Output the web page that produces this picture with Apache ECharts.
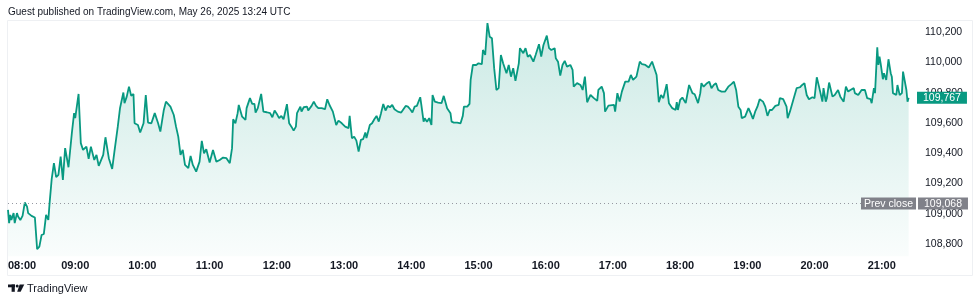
<!DOCTYPE html>
<html><head><meta charset="utf-8">
<script src="https://cdn.jsdelivr.net/npm/echarts@6/dist/echarts.min.js"></script>
<style>html,body{margin:0;padding:0;background:#fff}#c{width:980px;height:303px}</style>
</head><body><div id="c"></div>
<script>
// minutes elapsed since 08:00 for each sampled point
const minutesFrom0800 = [0,1,2,3,5,6,8,9,11,13,15,17,18,21,24,25,26,28,30,32,34,36,37,39,41,43,45,47,49,51,54,57,59,60,63,65,67,70,72,74,77,79,81,85,87,90,93,95,98,100,103,104,106,108,110,112,113,116,118,121,123,125,128,131,134,136,139,141,145,148,150,152,154,156,158,161,163,165,168,171,173,175,177,180,183,186,189,192,195,198,200,201,203,205,206,209,212,213,216,218,220,221,223,226,228,231,234,236,238,240,242,244,246,249,251,253,255,257,258,261,262,264,267,268,271,273,275,277,280,283,285,287,290,293,295,298,301,304,305,307,309,311,313,315,317,319,320,323,325,327,329,331,333,335,337,339,341,343,345,348,351,353,355,357,359,361,363,365,368,369,371,372,374,376,378,379,381,384,387,389,392,395,396,398,401,404,406,407,410,412,413,415,418,420,423,424,426,428,430,432,434,436,438,440,442,445,447,449,451,453,456,457,460,462,464,466,469,471,474,476,478,481,483,485,488,489,491,493,495,497,499,502,504,505,508,511,513,515,517,520,523,526,527,530,532,533,536,541,542,544,546,548,551,554,556,558,561,564,566,569,572,575,576,579,581,583,585,588,590,593,596,597,598,600,602,605,606,608,611,613,616,618,619,621,624,626,628,630,632,634,637,640,643,646,648,650,652,654,655,658,661,663,665,667,669,671,674,676,678,680,682,685,688,689,692,695,696,698,701,704,707,709,711,713,715,718,720,722,724,727,728,730,731,733,736,738,741,743,746,748,750,752,755,756,759,762,765,767,770,771,773,774,776,777,778,779,781,782,784,786,788,789,790,793,794,796,798,799,802,803,804];
const prices = [109026,108939,108993,108960,109005,108939,109005,108983,108960,108987,109075,109048,109005,108987,108976,108965,108767,108784,108861,108868,108993,108960,109059,109229,109335,109242,109257,109378,109224,109434,109308,109533,109665,109632,109792,109467,109422,109444,109363,109444,109356,109389,109317,109389,109506,109368,109297,109411,109576,109698,109801,109731,109774,109840,109779,109792,109598,109587,109537,109598,109785,109603,109598,109665,109598,109543,109682,109741,109708,109653,109576,109510,109389,109422,109323,109302,109383,109323,109279,109345,109482,109400,109427,109339,109422,109345,109356,109372,109368,109335,109434,109625,109598,109665,109719,109642,109620,109698,109764,109726,109726,109669,109698,109792,109675,109671,109665,109638,109682,109660,109632,109647,109625,109724,109598,109576,109550,109576,109665,109708,109675,109704,109708,109682,109713,109741,109713,109698,109698,109691,109757,109719,109675,109587,109616,109598,109576,109566,109647,109500,109510,109484,109411,109488,109493,109537,109500,109587,109598,109625,109647,109609,109665,109726,109682,109713,109704,109719,109691,109675,109669,109691,109713,109708,109691,109669,109708,109713,109770,109719,109609,109632,109609,109632,109587,109785,109741,109735,109731,109779,109698,109665,109609,109603,109603,109598,109647,109708,109708,109726,109884,109983,109983,109994,109988,110082,110049,110259,110170,110160,109962,109818,109830,110049,109994,109929,109983,109906,109962,109878,109994,110094,110061,110094,110038,110049,110005,110049,110120,110038,110115,110177,110094,110082,110094,110028,110005,109913,109983,110010,109972,109983,109950,109840,109863,109851,109818,109906,109737,109785,109764,109746,109818,109840,109797,109675,109715,109719,109675,109797,109741,109807,109873,109873,109917,109884,109906,110005,109988,109983,109966,110005,109983,109917,109737,109785,109764,109856,109731,109698,109686,109737,109686,109752,109768,109731,109719,109851,109797,109790,109731,109797,109863,109840,109863,109873,109830,109851,109863,109818,109807,109807,109840,109858,109873,109818,109708,109686,109632,109642,109698,109665,109627,109675,109708,109757,109741,109708,109647,109686,109686,109713,109719,109764,109757,109708,109632,109675,109752,109830,109836,109851,109863,109785,109757,109770,109764,109902,109840,109741,109830,109741,109764,109867,109774,109785,109818,109774,109741,109840,109807,109818,109830,109797,109785,109818,109818,109764,109757,109731,109830,109797,110100,109983,110038,109994,109889,109929,109884,110021,109929,109906,109797,109785,109851,109785,109797,109939,109818,109741,109767];
const hourTicks = [0,60,120,180,240,300,360,420,480,540,600,660,720,780];
const hourLabels = ['08:00','09:00','10:00','11:00','12:00','13:00','14:00','15:00','16:00','17:00','18:00','19:00','20:00','21:00'];
const priceTicks = [108800,109000,109200,109400,109600,109800,110000,110200];
const prevClose = 109068;
const lastPrice = 109767;
const headerText = 'Guest published on TradingView.com, May 26, 2025 13:24 UTC';
const footerText = 'TradingView';

const FONT = 'Liberation Sans, Arial, sans-serif';
const fmt = v => Number(v).toLocaleString('en-US');
const chart = echarts.init(document.getElementById('c'), null, {renderer: 'canvas'});
const seriesData = minutesFrom0800.map((m, i) => [m, prices[i]]);

chart.setOption({
  animation: false,
  backgroundColor: '#ffffff',
  textStyle: {fontFamily: FONT},
  title: {
    text: headerText, left: 8, top: 7, padding: 0,
    textStyle: {fontSize: 10, fontWeight: 'normal', color: '#131722', fontFamily: FONT}
  },
  grid: {left: 8, right: 68, top: 20, bottom: 46.7, containLabel: false},
  xAxis: {
    type: 'value', min: 0, max: 807, interval: 60,
    axisLine: {show: false}, axisTick: {show: false}, splitLine: {show: false},
    axisLabel: {
      customValues: hourTicks,
      alignMinLabel: 'left',
      margin: 4, fontSize: 11, fontWeight: 'bold', color: '#131722', fontFamily: FONT,
      formatter: v => { const i = hourTicks.indexOf(v); return i >= 0 ? hourLabels[i] : ''; }
    }
  },
  yAxis: {
    type: 'value', position: 'right', min: 108720, max: 110280, scale: true,
    axisLine: {show: false}, axisTick: {show: false}, splitLine: {show: false},
    axisLabel: {
      customValues: priceTicks,
      margin: 13, fontSize: 10.5, color: '#131722', fontFamily: FONT,
      formatter: v => fmt(v)
    }
  },
  series: [{
    type: 'line', data: seriesData, showSymbol: false, symbol: 'none',
    lineStyle: {color: '#089981', width: 1.8},
    itemStyle: {color: '#089981'},
    areaStyle: {
      color: new echarts.graphic.LinearGradient(0, 0, 0, 1, [
        {offset: 0, color: 'rgba(8,153,129,0.3)'},
        {offset: 1, color: 'rgba(8,153,129,0.03)'}
      ])
    },
    markLine: {
      silent: true, symbol: ['none', 'none'], animation: false,
      data: [
        {
          yAxis: prevClose,
          lineStyle: {type: [1, 3], color: '#9598a1', width: 1},
          label: {
            show: true, position: 'end', distance: -51,
            formatter: '{a|Prev close}{s| }{b|' + fmt(prevClose) + '}',
            rich: {
              a: {backgroundColor: '#808189', color: '#ffffff', fontSize: 10.5, padding: [1, 3, 0, 3], lineHeight: 12, fontFamily: FONT},
              s: {width: 2, fontSize: 10.5},
              b: {backgroundColor: '#808189', color: '#ffffff', fontSize: 10.5, padding: [1, 6, 0, 6], lineHeight: 12, fontFamily: FONT}
            }
          }
        },
        {
          yAxis: lastPrice,
          lineStyle: {color: 'rgba(0,0,0,0)', width: 0, opacity: 1},
          label: {
            show: true, position: 'end', distance: 5,
            formatter: '{t|' + fmt(lastPrice) + '}',
            opacity: 1,
            rich: {
              t: {backgroundColor: '#089981', color: '#ffffff', fontSize: 10.5, padding: [1, 6, 0, 6], lineHeight: 12, fontFamily: FONT}
            }
          }
        }
      ]
    }
  }],
  graphic: [
    {type: 'rect', z: -10, silent: true, shape: {x: 7.5, y: 20.5, width: 965, height: 255},
     style: {fill: 'none', stroke: '#eef0f3', lineWidth: 1}},
    {type: 'rect', silent: true, shape: {x: 8, y: 284.5, width: 7, height: 2.8}, style: {fill: '#131722'}},
    {type: 'rect', silent: true, shape: {x: 11.6, y: 284.5, width: 3.2, height: 7.3}, style: {fill: '#131722'}},
    {type: 'circle', silent: true, shape: {cx: 17.2, cy: 286, r: 1.5}, style: {fill: '#131722'}},
    {type: 'polygon', silent: true, shape: {points: [[19.6, 284.5], [24.3, 284.5], [20.6, 291.8], [17.2, 291.8]]}, style: {fill: '#131722'}},
    {type: 'text', silent: true, x: 27, y: 288.5,
     style: {text: footerText, fontSize: 11, fill: '#131722', fontFamily: FONT, verticalAlign: 'middle', align: 'left'}}
  ]
});
</script></body></html>
